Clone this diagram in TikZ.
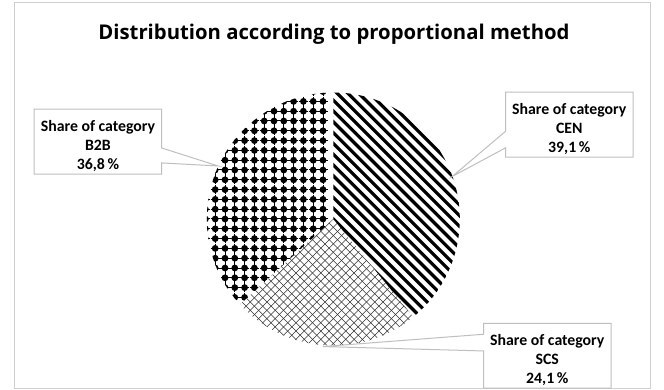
\documentclass[tikz,border=0pt]{standalone}
\usepackage{fontspec}
\setmainfont{Carlito}
\newfontfamily\titlefont{Open Sans}
\usetikzlibrary{calc}
\definecolor{framegray}{HTML}{CFCFCF}
\definecolor{calloutgray}{HTML}{BFBFBF}
\begin{document}
\begin{tikzpicture}[x=1pt,y=-1pt,
  callout/.style={draw=calloutgray,line width=1pt,line join=miter},
  lblbox/.style={inner sep=0pt,minimum width=127pt,minimum height=64.5pt},
  lbltext/.style={inner sep=0pt,align=center,
    font=\fontsize{15.8}{19}\selectfont\bfseries},
  titlestyle/.style={font=\titlefont\fontsize{20.3}{24}\selectfont\bfseries,anchor=base,inner sep=0pt},
  stripe/.style={line width=3.2pt,black},
  hatch/.style={line width=0.55pt,black!80},
]
\useasboundingbox (0,0) rectangle (664,390);
\fill[white] (0,0) rectangle (664,390);
% outer frame
\draw[framegray,line width=1pt] (14.7,2.7) rectangle (650,388.5);

% title
\node[titlestyle] (title) at (334,39.3) {Distribution according to proportional method};

% pie
\coordinate (pc) at (333.3,219);
\def\R{126.5}
% CEN slice: -90 .. 50.76
\begin{scope}
  \clip (pc) -- ++(-90:\R) arc[start angle=-90,end angle=50.76,radius=\R] -- cycle;
  \foreach \k in {-30,...,30}
    \draw[stripe] ([shift={(\k*10.8-200,-200)}]pc) -- ++(400,400);
\end{scope}
% SCS slice: 50.76 .. 137.52
\begin{scope}
  \clip (pc) -- ++(50.76:\R) arc[start angle=50.76,end angle=137.52,radius=\R] -- cycle;
  \foreach \k in {-40,...,40} {
    \draw[hatch] ([shift={(\k*8.3-200,-200)}]pc) -- ++(400,400);
    \draw[hatch] ([shift={(\k*8.3+200,-200)}]pc) -- ++(-400,400);
  }
\end{scope}
% B2B slice: 137.52 .. 270
\begin{scope}
  \clip (pc) -- ++(137.52:\R) arc[start angle=137.52,end angle=270,radius=\R] -- cycle;
  \foreach \i in {0,...,13} {
    \foreach \j in {-14,...,14} {
      \fill ([shift={(-10.3-\i*9.8,\j*9.8)}]pc) circle (3.4pt);
      \draw[line width=1pt] ([shift={(-10.3-\i*9.8-4.7,\j*9.8)}]pc) -- ++(9.4,0)
                              ([shift={(-10.3-\i*9.8,\j*9.8-4.7)}]pc) -- ++(0,9.4);
    }
  }
\end{scope}

% label boxes and texts
\node[lblbox] (b2b) at (97.9,141.7) {};
\node[lblbox] (cen) at (569.3,124.7) {};
\node[lblbox] (scs) at (547.3,355.7) {};
\node[lbltext] (b2bt) at ([yshift=-4pt]b2b.center) {Share of category\\B2B\\36,8\,\%};
\node[lbltext] (cent) at ([yshift=-4pt]cen.center) {Share of category\\CEN\\39,1\,\%};
\node[lbltext] (scst) at ([yshift=-4pt]scs.center) {Share of category\\SCS\\24,1\,\%};

% callout tips on the pie edge
\coordinate (tipB) at ($(pc)+(204.7:127)$);
\coordinate (tipC) at ($(pc)+(-19.7:126.5)$);
\coordinate (tipS) at ($(pc)+(94.7:128)$);

\draw[callout] (b2b.north west) -- (b2b.north east) -- ($(b2b.north east)+(0,38.7)$)
  -- (tipB) -- ($(b2b.north east)+(0,53.7)$) -- (b2b.south east) -- (b2b.south west) -- cycle;
\draw[callout] (cen.north east) -- (cen.north west) -- ($(cen.north west)+(0,39)$)
  -- (tipC) -- ($(cen.north west)+(0,55.6)$) -- (cen.south west) -- (cen.south east) -- cycle;
\draw[callout] (scs.north east) -- (scs.north west) -- ($(scs.north west)+(0,11)$)
  -- (tipS) -- ($(scs.north west)+(0,27.7)$) -- (scs.south west) -- (scs.south east) -- cycle;
\end{tikzpicture}
\end{document}
